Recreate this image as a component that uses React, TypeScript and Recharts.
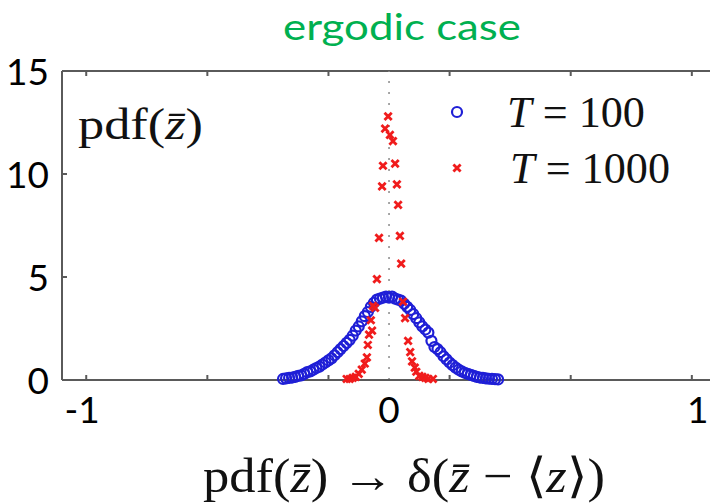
import React from 'react';
import { ScatterChart, Scatter, XAxis, YAxis, ReferenceLine } from 'recharts';

// T = 100 histogram (blue circles)
const t100X = [
  -0.35, -0.34, -0.33, -0.32, -0.31, -0.3, -0.29, -0.28, -0.27, -0.26, -0.25, -0.24,
  -0.23, -0.22, -0.21, -0.2, -0.19, -0.18, -0.17, -0.16, -0.15, -0.14, -0.13, -0.12,
  -0.11, -0.1, -0.09, -0.08, -0.07, -0.06, -0.05, -0.04, -0.03, -0.02, -0.01, 0,
  0.01, 0.02, 0.03, 0.04, 0.05, 0.06, 0.07, 0.08, 0.09, 0.1, 0.11, 0.12,
  0.13, 0.14, 0.15, 0.16, 0.17, 0.18, 0.19, 0.2, 0.21, 0.22, 0.23, 0.24,
  0.25, 0.26, 0.27, 0.28, 0.29, 0.3, 0.31, 0.32, 0.33, 0.34, 0.35, 0.36,
];
const t100Y = [
  0.05, 0.08, 0.1, 0.12, 0.15, 0.2, 0.22, 0.3, 0.38, 0.42, 0.5, 0.58,
  0.65, 0.75, 0.85, 0.95, 1.05, 1.2, 1.35, 1.5, 1.65, 1.8, 1.95, 2.15,
  2.4, 2.6, 2.85, 3.1, 3.3, 3.55, 3.75, 3.9, 3.95, 4.0, 4.05, 4.0,
  4.05, 3.95, 3.9, 3.85, 3.7, 3.55, 3.4, 3.2, 3.0, 2.8, 2.6, 2.45,
  2.3, 1.9, 1.6, 1.5, 1.35, 1.15, 1.0, 0.85, 0.72, 0.6, 0.5, 0.42,
  0.35, 0.3, 0.25, 0.2, 0.15, 0.12, 0.1, 0.08, 0.06, 0.05, 0.04, 0.03,
];

// T = 1000 histogram (red crosses)
const t1000X = [
  -0.14, -0.13, -0.12, -0.11, -0.1, -0.09, -0.08, -0.073, -0.07, -0.066, -0.06, -0.056,
  -0.053, -0.046, -0.04, -0.033, -0.023, -0.02, -0.013, -0.003, 0.003, 0.013, 0.02, 0.026,
  0.03, 0.036, 0.04, 0.046, 0.053, 0.063, 0.07, 0.076, 0.085, 0.09, 0.1, 0.11,
  0.12, 0.13, 0.145,
];
const t1000Y = [
  0.05, 0.05, 0.1, 0.15, 0.3, 0.5, 0.8, 1.1, 1.7, 2.2, 2.9, 2.4,
  3.6, 3.5, 4.9, 6.9, 9.4, 10.4, 12.2, 12.8, 11.9, 11.6, 10.5, 9.5,
  8.5, 7.0, 5.65, 3.8, 3.0, 1.9, 1.35, 0.9, 0.6, 0.4, 0.2, 0.15,
  0.1, 0.05, 0.05,
];

const xTicks = [-1, -0.6, -0.2, 0, 0.2, 0.6, 1];
const xLabels = [-1, 0, 1];
const yTicks = [0, 5, 10, 15];

const t100 = t100X.map((x, i) => ({ x, y: t100Y[i] }));
const t1000 = t1000X.map((x, i) => ({ x, y: t1000Y[i] }));

const BLUE = '#1f1fd6';
const RED = '#f01c1c';
const AXIS = '#5a5a5a';
const PLOT_H = 309;
const TICK_FONT = 'Lato, "Open Sans", sans-serif';
const SERIF = '"Times New Roman", "Liberation Serif", Times, serif';

const XTick = (props: any) => {
  const { x, y, payload } = props;
  const v = payload.value;
  const showLabel = xLabels.includes(v);
  const label = v === -1 ? '-1' : String(v);
  const dx = v === -1 ? -4 : v === 1 ? 6 : 0;
  return (
    <g>
      {v !== 0 && (
        <>
          <line x1={x} x2={x} y1={y} y2={y - 5} stroke={AXIS} strokeWidth={2} />
          <line x1={x} x2={x} y1={y - PLOT_H} y2={y - PLOT_H + 5} stroke={AXIS} strokeWidth={2} />
        </>
      )}
      {showLabel && (
        <text x={x + dx} y={y + 43} textAnchor="middle" fontSize={37} fontFamily={TICK_FONT} fill="#000">
          {label}
        </text>
      )}
    </g>
  );
};

const YTick = (props: any) => {
  const { x, y, payload } = props;
  return (
    <g>
      <line x1={x} x2={x + 5} y1={y} y2={y} stroke={AXIS} strokeWidth={2} />
      <text x={x - 13} y={y + 14} textAnchor="end" fontSize={37} fontFamily={TICK_FONT} fill="#000">
        {payload.value}
      </text>
    </g>
  );
};

const Circle = (props: any) => (
  <circle cx={props.cx} cy={props.cy} r={5} fill="none" stroke={BLUE} strokeWidth={2.2} />
);

const Cross = (props: any) => {
  const { cx, cy } = props;
  const s = 3.6;
  return (
    <g stroke={RED} strokeWidth={2.8}>
      <line x1={cx - s} y1={cy - s} x2={cx + s} y2={cy + s} />
      <line x1={cx - s} y1={cy + s} x2={cx + s} y2={cy - s} />
    </g>
  );
};

export default function App() {
  return (
    <div style={{ position: 'absolute', left: 0, top: 0, width: 710, height: 504, background: '#fff', overflow: 'hidden' }}>
      <ScatterChart width={710} height={504} margin={{ top: 71, right: 0, bottom: 0, left: 0 }}>
        <XAxis
          type="number"
          dataKey="x"
          domain={[-1.08, 1.06]}
          ticks={xTicks}
          interval={0}
          allowDataOverflow
          height={124}
          tickSize={0}
          tickMargin={0}
          tickLine={false}
          axisLine={{ stroke: AXIS, strokeWidth: 2 }}
          tick={<XTick />}
        />
        <YAxis
          type="number"
          dataKey="y"
          domain={[0, 15]}
          ticks={yTicks}
          interval={0}
          width={62}
          tickSize={0}
          tickMargin={0}
          tickLine={false}
          axisLine={{ stroke: AXIS, strokeWidth: 2 }}
          tick={<YTick />}
        />
        <ReferenceLine y={15} stroke={AXIS} strokeWidth={2} />
        <ReferenceLine x={0} stroke="#8a8a8a" strokeWidth={1.5} strokeDasharray="2 9" />
        <Scatter data={t100} shape={<Circle />} isAnimationActive={false} />
        <Scatter data={t1000} shape={<Cross />} isAnimationActive={false} />
      </ScatterChart>
      <svg width={710} height={504} style={{ position: 'absolute', left: 0, top: 0, pointerEvents: 'none' }}>
        <text x={283} y={40} fontSize={37} fontFamily={TICK_FONT} fill="#00b050" textLength={238} lengthAdjust="spacingAndGlyphs">
          ergodic case
        </text>
        <text x={78} y={139} fontSize={44} fontFamily={SERIF} fill="#111" textLength={125} lengthAdjust="spacingAndGlyphs">
          pdf(<tspan fontStyle="italic">z&#772;</tspan>)
        </text>
        <circle cx={457} cy={112} r={5} fill="none" stroke={BLUE} strokeWidth={2.2} />
        <g stroke={RED} strokeWidth={2.8}>
          <line x1={453.4} y1={164.4} x2={460.6} y2={171.6} />
          <line x1={453.4} y1={171.6} x2={460.6} y2={164.4} />
        </g>
        <text x={507} y={127} fontSize={44} fontFamily={SERIF} fill="#111" textLength={138} lengthAdjust="spacingAndGlyphs">
          <tspan fontStyle="italic">T</tspan> = 100
        </text>
        <text x={510} y={183} fontSize={44} fontFamily={SERIF} fill="#111" textLength={160} lengthAdjust="spacingAndGlyphs">
          <tspan fontStyle="italic">T</tspan> = 1000
        </text>
        <text x={203} y={492} fontSize={48} fontFamily={SERIF} fill="#111" textLength={402} lengthAdjust="spacingAndGlyphs">
          pdf(<tspan fontStyle="italic">z&#772;</tspan>) → δ(<tspan fontStyle="italic">z&#772;</tspan> − ⟨<tspan fontStyle="italic">z</tspan>⟩)
        </text>
      </svg>
    </div>
  );
}
